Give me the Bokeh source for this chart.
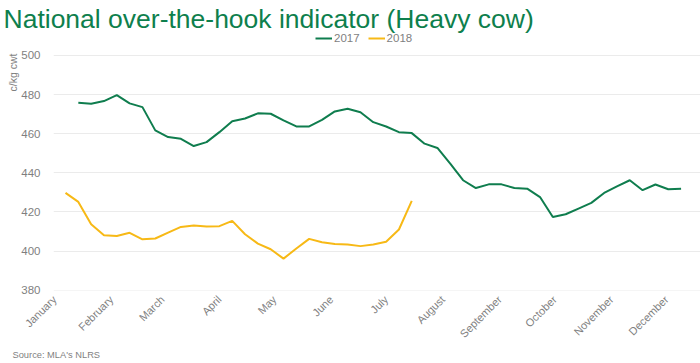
import math
import pandas as pd
from bokeh.plotting import figure
from bokeh.models import (Range1d, FixedTicker, Legend, LegendItem, Title,
                          ColumnDataSource)
from bokeh.embed import file_html
from bokeh.resources import INLINE

# ---------------- data ----------------
months = ["January", "February", "March", "April", "May", "June", "July",
          "August", "September", "October", "November", "December"]
month_start_days = [0, 31, 59, 90, 120, 151, 181, 212, 243, 273, 304, 334]

start_2017 = "2017-01-14"
values_2017 = [475.8, 475.3, 476.7, 479.7, 475.5, 473.6, 461.7, 458.3, 457.4, 453.7,
               455.7, 460.8, 466.4, 467.8, 470.4, 470.2, 466.8, 463.7, 463.7, 467.1,
               471.4, 472.8, 471.0, 465.9, 463.7, 460.8, 460.3, 454.9, 452.7, 444.7,
               436.2, 432.2, 434.1, 434.1, 432.2, 431.9, 427.6, 417.4, 418.8, 421.7,
               424.6, 429.7, 433.1, 436.2, 431.1, 434.0, 431.6, 431.9]

start_2018 = "2018-01-07"
values_2018 = [429.7, 425.1, 413.7, 408.1, 407.7, 409.3, 406.0, 406.4, 409.4, 412.3,
               413.0, 412.5, 412.7, 415.4, 408.6, 403.8, 400.9, 396.1, 401.3, 406.2,
               404.5, 403.6, 403.3, 402.5, 403.3, 404.7, 411.0, 425.6]

y_ticks = [380, 400, 420, 440, 460, 480, 500]

# weekly dates -> day of year (0 = 1 January)
dates_2017 = pd.date_range(start_2017, periods=len(values_2017), freq="7D")
dates_2018 = pd.date_range(start_2018, periods=len(values_2018), freq="7D")
days_2017 = [int(d) for d in (dates_2017.dayofyear - 1)]
days_2018 = [int(d) for d in (dates_2018.dayofyear - 1)]

GREEN = "#0F7D4E"
YELLOW = "#F7B916"
TITLE_GREEN = "#0E7F4D"
GRAY = "#7F7F7F"
FONT = "Liberation Sans"

FW, FH = 647, 257
p = figure(frame_width=FW, frame_height=FH, output_backend="svg",
           toolbar_location=None,
           x_range=Range1d(-0.55, 352.6), y_range=Range1d(379.8, 511.25),
           min_border_left=53, min_border_right=0, min_border_top=33,
           min_border_bottom=73)

p.title.text = "National over-the-hook indicator (Heavy cow)"
p.title.text_font = FONT
p.title.text_font_size = "26.5px"
p.title.text_font_style = "normal"
p.title.text_color = TITLE_GREEN
p.title.align = "left"
p.title.offset = -50
p.title.standoff = 0

src17 = ColumnDataSource(dict(x=days_2017, y=values_2017))
src18 = ColumnDataSource(dict(x=days_2018, y=values_2018))
r17 = p.line("x", "y", source=src17, line_color=GREEN, line_width=2)
r18 = p.line("x", "y", source=src18, line_color=YELLOW, line_width=2)

# axes
p.xaxis.ticker = FixedTicker(ticks=month_start_days)
p.xaxis.major_label_overrides = {d: m for d, m in zip(month_start_days, months)}
p.xaxis.major_label_orientation = math.pi / 4
p.yaxis.ticker = FixedTicker(ticks=y_ticks)
for ax in (p.xaxis, p.yaxis):
    ax.axis_line_color = None
    ax.major_tick_line_color = None
    ax.minor_tick_line_color = None
    ax.major_label_text_font = FONT
    ax.major_label_text_color = GRAY
p.xaxis.major_label_text_font_size = "11px"
p.yaxis.major_label_text_font_size = "11.5px"
p.xaxis.major_label_standoff = 1
p.yaxis.major_label_standoff = 7

p.xgrid.grid_line_color = None
p.ygrid.grid_line_color = "#EBEBEB"
p.ygrid.grid_line_width = 1
p.outline_line_color = None

# legend in the empty strip at the top of the frame (above the 500 line)
legend = Legend(items=[LegendItem(label="2017", renderers=[r17]),
                       LegendItem(label="2018", renderers=[r18])],
                orientation="horizontal", location=(262, 246),
                label_text_font=FONT, label_text_font_size="11.5px",
                label_text_color=GRAY, border_line_color=None,
                background_fill_alpha=0, glyph_width=17, glyph_height=12,
                label_standoff=2, spacing=8, padding=0, margin=0,
                label_height=12)
p.add_layout(legend, "center")

ylab = Title(text="c/kg cwt", align="right", offset=20, text_font=FONT,
             text_font_size="10.5px", text_font_style="normal",
             text_color=GRAY, standoff=0)
p.add_layout(ylab, "left")

source = Title(text="Source: MLA's NLRS", align="left", offset=-41,
               text_font=FONT, text_font_size="9.3px", text_font_style="normal",
               text_color=GRAY, standoff=0)
p.add_layout(source, "below")

open("out.html", "w").write(file_html(p, INLINE))
